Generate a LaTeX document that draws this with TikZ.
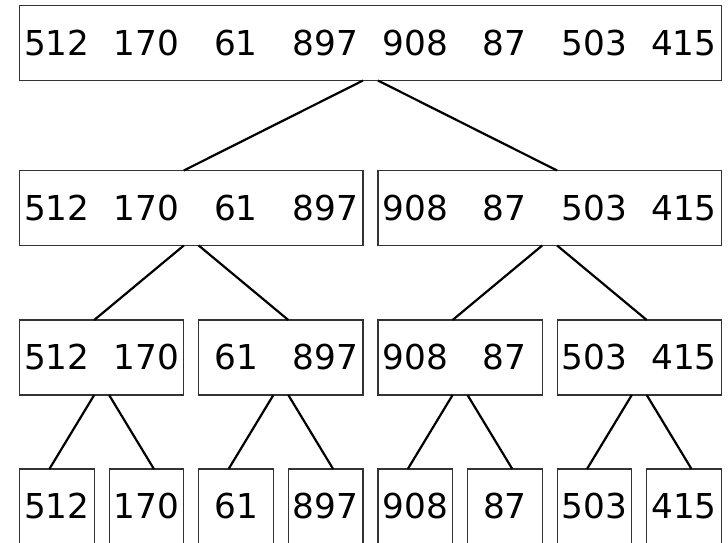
\documentclass[tikz,border=0pt]{standalone}
\usepackage{fontspec}
\setmainfont{DejaVu Sans}
\usetikzlibrary{calc}

% one column per element: every number sits in a cell of fixed pitch
\newcommand{\numcell}[1]{\makebox[89.6pt]{#1}}
\newcommand{\cells}[1]{\makebox[0pt]{#1}}

\tikzset{
  box/.style={draw=black!80, line width=1.2pt, rectangle, inner sep=0pt,
              outer sep=0pt, minimum height=75pt,
              font=\fontsize{34.3}{40}\selectfont},
  link/.style={draw=black, line width=2.2pt},
}

\begin{document}
\begin{tikzpicture}[x=1pt, y=-1pt]
  \useasboundingbox (0,0) rectangle (728,542);
  \clip (0,0) rectangle (728,542);

  % root
  \node[box, minimum width=701.9pt] (root) at (370.45,43)
    {\cells{\numcell{512}\numcell{170}\numcell{61}\numcell{897}\numcell{908}\numcell{87}\numcell{503}\numcell{415}}};

  % halves
  \node[box, minimum width=343.5pt] (l2a) at (191.25,208)
    {\cells{\numcell{512}\numcell{170}\numcell{61}\numcell{897}}};
  \node[box, minimum width=343.5pt] (l2b) at (549.65,208)
    {\cells{\numcell{908}\numcell{87}\numcell{503}\numcell{415}}};

  % quarters
  \node[box, minimum width=164.3pt] (l3a) at (101.65,357.5) {\cells{\numcell{512}\numcell{170}}};
  \node[box, minimum width=164.3pt] (l3b) at (280.85,357.5) {\cells{\numcell{61}\numcell{897}}};
  \node[box, minimum width=164.3pt] (l3c) at (460.05,357.5) {\cells{\numcell{908}\numcell{87}}};
  \node[box, minimum width=164.3pt] (l3d) at (639.25,357.5) {\cells{\numcell{503}\numcell{415}}};

  % single elements
  \node[box, minimum width=74.7pt] (f1) at (56.85,506.5)  {\cells{\numcell{512}}};
  \node[box, minimum width=74.7pt] (f2) at (146.45,506.5) {\cells{\numcell{170}}};
  \node[box, minimum width=74.7pt] (f3) at (236.05,506.5) {\cells{\numcell{61}}};
  \node[box, minimum width=74.7pt] (f4) at (325.65,506.5) {\cells{\numcell{897}}};
  \node[box, minimum width=74.7pt] (f5) at (415.25,506.5) {\cells{\numcell{908}}};
  \node[box, minimum width=74.7pt] (f6) at (504.85,506.5) {\cells{\numcell{87}}};
  \node[box, minimum width=74.7pt] (f7) at (594.45,506.5) {\cells{\numcell{503}}};
  \node[box, minimum width=74.7pt] (f8) at (684.05,506.5) {\cells{\numcell{415}}};

  % root to halves
  \draw[link] (root.south -| l2a.east) -- (l2a.north -| l3a.east);
  \draw[link] (root.south -| l2b.west) -- (l2b.north -| l3d.west);

  % halves to quarters
  \draw[link] (l2a.south -| l3a.east) -- (l3a.north -| f1.east);
  \draw[link] (l2a.south -| l3b.west) -- (l3b.north -| f4.west);
  \draw[link] (l2b.south -| l3c.east) -- (l3c.north -| f5.east);
  \draw[link] (l2b.south -| l3d.west) -- (l3d.north -| f8.west);

  % quarters to single elements
  \draw[link] (l3a.south -| f1.east) -- ($(f1.north west)!0.4!(f1.north east)$);
  \draw[link] (l3a.south -| f2.west) -- ($(f2.north west)!0.6!(f2.north east)$);
  \draw[link] (l3b.south -| f3.east) -- ($(f3.north west)!0.4!(f3.north east)$);
  \draw[link] (l3b.south -| f4.west) -- ($(f4.north west)!0.6!(f4.north east)$);
  \draw[link] (l3c.south -| f5.east) -- ($(f5.north west)!0.4!(f5.north east)$);
  \draw[link] (l3c.south -| f6.west) -- ($(f6.north west)!0.6!(f6.north east)$);
  \draw[link] (l3d.south -| f7.east) -- ($(f7.north west)!0.4!(f7.north east)$);
  \draw[link] (l3d.south -| f8.west) -- ($(f8.north west)!0.6!(f8.north east)$);
\end{tikzpicture}
\end{document}
